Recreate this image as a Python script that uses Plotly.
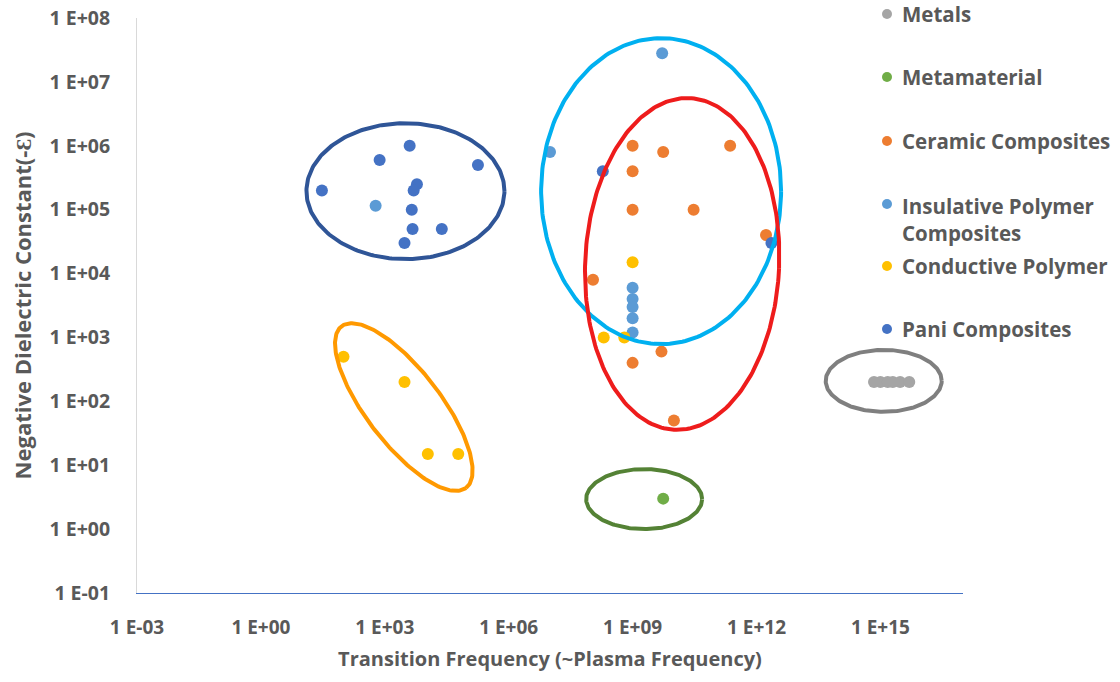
import numpy as np
import plotly.graph_objects as go

# ---- data: transition frequency (Hz) vs negative dielectric constant ----
series_names = ["Metals", "Metamaterial", "Ceramic Composites",
                "Insulative Polymer<br>Composites", "Conductive Polymer", "Pani Composites"]
series_colors = ["#A5A5A5", "#70AD47", "#ED7D31", "#5B9BD5", "#FFC000", "#4472C4"]

metals_f = [7e14, 1e15, 1.5e15, 2e15, 3e15, 5e15]
metals_eps = [200, 200, 200, 200, 200, 200]

metamaterial_f = [5.5e9]
metamaterial_eps = [3]

ceramic_f = [1e9, 5.5e9, 2.3e11, 1e9, 1e9, 3e10, 1.7e12, 1.1e8, 5e9, 1e9, 1e10]
ceramic_eps = [1e6, 8e5, 1e6, 4e5, 1e5, 1e5, 4e4, 8e3, 6e2, 4e2, 50]

insulative_f = [6e2, 5.2e9, 1e7, 1e9, 1e9, 1e9, 1e9, 1e9]
insulative_eps = [1.15e5, 2.8e7, 8e5, 6e3, 4e3, 3e3, 2e3, 1.2e3]

conductive_f = [1e9, 2e8, 6.3e8, 1e2, 3e3, 1.1e4, 6e4]
conductive_eps = [1.5e4, 1e3, 1e3, 5e2, 2e2, 15, 15]

pani_f = [30, 7.5e2, 4e3, 1.8e5, 6e3, 5e3, 4.5e3, 4.7e3, 2.4e4, 3e3, 1.9e8, 2.3e12]
pani_eps = [2e5, 6e5, 1e6, 5e5, 2.5e5, 2e5, 1e5, 5e4, 5e4, 3e4, 4e5, 3e4]

x_tick_vals = [1e-3, 1e0, 1e3, 1e6, 1e9, 1e12, 1e15]
x_tick_text = ["1 E-03", "1 E+00", "1 E+03", "1 E+06", "1 E+09", "1 E+12", "1 E+15"]
y_tick_vals = [1e-1, 1e0, 1e1, 1e2, 1e3, 1e4, 1e5, 1e6, 1e7, 1e8]
y_tick_text = ["1 E-01", "1 E+00", "1 E+01", "1 E+02", "1 E+03",
               "1 E+04", "1 E+05", "1 E+06", "1 E+07", "1 E+08"]

# ---- layout geometry ----
W, H = 1120, 682
MARGIN = dict(l=137, r=157, t=18, b=89)
X_RANGE = (-3, 17)
Y_RANGE = (-1, 8)
PLOT_W = W - MARGIN["l"] - MARGIN["r"]
PLOT_H = H - MARGIN["t"] - MARGIN["b"]
PX_PER_DEC_X = PLOT_W / (X_RANGE[1] - X_RANGE[0])
PX_PER_DEC_Y = PLOT_H / (Y_RANGE[1] - Y_RANGE[0])

TEXT_COLOR = "#595959"
FONT = "Open Sans"


def outline(cx, cy, a, b, angle_deg, n=240):
    """Ellipse around a group: centre in log10 units, half-axes in pixels."""
    t = np.linspace(0, 2 * np.pi, n)
    th = np.radians(angle_deg)
    dx = a * np.cos(t) * np.cos(th) - b * np.sin(t) * np.sin(th)
    dy = a * np.cos(t) * np.sin(th) + b * np.sin(t) * np.cos(th)
    return 10 ** (cx + dx / PX_PER_DEC_X), 10 ** (cy + dy / PX_PER_DEC_Y)


fig = go.Figure()

series = [
    (metals_f, metals_eps),
    (metamaterial_f, metamaterial_eps),
    (ceramic_f, ceramic_eps),
    (insulative_f, insulative_eps),
    (conductive_f, conductive_eps),
    (pani_f, pani_eps),
]
for (fx, ey), name, color in zip(series, series_names, series_colors):
    fig.add_trace(go.Scatter(
        x=fx, y=ey, mode="markers", name=name.replace("<br>", " "),
        marker=dict(size=12, color=color, line=dict(width=0)),
        showlegend=False,
    ))

# group outlines: (centre log f, centre log eps, half-axis a px, half-axis b px, rotation, colour)
group_outlines = [
    (3.50, 5.29, 99, 68, 0, "#2F5597"),
    (9.69, 5.29, 120, 153, 0, "#00B0F0"),
    (10.20, 4.15, 97, 166, -2.6, "#EE1C1C"),
    (3.46, 1.91, 102, 37, -52.4, "#FF9900"),
    (9.28, 0.47, 58, 30, 0, "#548235"),
    (15.08, 2.32, 58, 31, 0, "#7F7F7F"),
]
for cx, cy, a, b, ang, col in group_outlines:
    ex, ey = outline(cx, cy, a, b, ang)
    fig.add_trace(go.Scatter(
        x=ex, y=ey, mode="lines", line=dict(color=col, width=4),
        hoverinfo="skip", showlegend=False,
    ))

# legend drawn beside the plot area
legend_rows_px = [14, 77, 141, 219.5, 266, 329]
marker_px_x = 887
text_px_x = 900
annotations = []
shapes = []
for name, color, py in zip(series_names, series_colors, legend_rows_px):
    yp = (H - MARGIN["b"] - py) / PLOT_H
    marker_y = yp if "<br>" not in name else (H - MARGIN["b"] - 204) / PLOT_H
    shapes.append(dict(
        type="circle", xref="paper", yref="paper",
        xsizemode="pixel", ysizemode="pixel",
        xanchor=(marker_px_x - MARGIN["l"]) / PLOT_W, yanchor=marker_y,
        x0=-5, x1=5, y0=-5, y1=5,
        fillcolor=color, line=dict(width=0),
    ))
    annotations.append(dict(
        text=name, xref="paper", yref="paper",
        x=(text_px_x - MARGIN["l"]) / PLOT_W, y=yp,
        xanchor="left", yanchor="middle", align="left", showarrow=False,
        font=dict(family=FONT, size=20.5, color=TEXT_COLOR, weight="bold"),
    ))

fig.update_layout(
    width=W, height=H, margin=MARGIN,
    paper_bgcolor="white", plot_bgcolor="white",
    font=dict(family=FONT, color=TEXT_COLOR),
    shapes=shapes, annotations=annotations,
    xaxis=dict(
        type="log", range=list(X_RANGE), automargin=False,
        tickvals=x_tick_vals, ticktext=x_tick_text,
        tickfont=dict(family=FONT, size=19, color=TEXT_COLOR, weight="bold"),
        ticklabelstandoff=17,
        showgrid=False, zeroline=False,
        showline=True, linecolor="#4472C4", linewidth=1.3,
        title=dict(text="Transition Frequency (~Plasma Frequency)", standoff=13,
                   font=dict(family=FONT, size=20, color=TEXT_COLOR, weight="bold")),
    ),
    yaxis=dict(
        type="log", range=list(Y_RANGE), automargin=False,
        tickvals=y_tick_vals, ticktext=y_tick_text,
        tickfont=dict(family=FONT, size=19.5, color=TEXT_COLOR, weight="bold"),
        ticklabelstandoff=22,
        showgrid=False, zeroline=False,
        showline=True, linecolor="#D9D9D9", linewidth=1,
        title=dict(text="Negative Dielectric Constant(-Ɛ)", standoff=11,
                   font=dict(family=FONT, size=22, color=TEXT_COLOR, weight="bold")),
    ),
)

fig.write_html("out.html")
